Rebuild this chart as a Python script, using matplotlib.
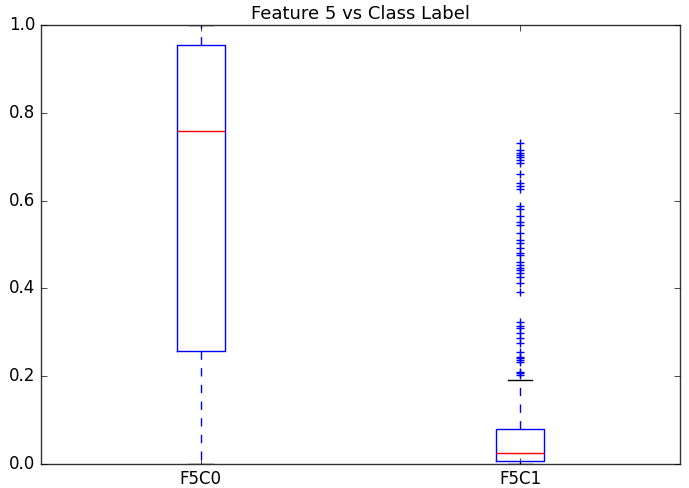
import matplotlib
matplotlib.use('Agg')
import matplotlib.pyplot as plt

plt.style.use('classic')

labels = ['F5C0', 'F5C1']
q1 = [0.257, 0.007]
med = [0.759, 0.025]
q3 = [0.954, 0.080]
whislo = [0.0, 0.0]
whishi = [1.0, 0.192]
fliers_c0 = []
fliers_c1 = [0.730, 0.715, 0.708, 0.704, 0.699, 0.692, 0.686, 0.660, 0.639,
             0.633, 0.626, 0.588, 0.580, 0.565, 0.552, 0.544, 0.526, 0.510,
             0.503, 0.493, 0.481, 0.476, 0.460, 0.453, 0.446, 0.442, 0.435,
             0.426, 0.412, 0.392, 0.323, 0.314, 0.310, 0.298, 0.287, 0.276,
             0.255, 0.244, 0.241, 0.237, 0.232, 0.210, 0.207, 0.203]
fliers = [fliers_c0, fliers_c1]

stats = []
for i in range(len(labels)):
    stats.append({'label': labels[i], 'q1': q1[i], 'med': med[i], 'q3': q3[i],
                  'whislo': whislo[i], 'whishi': whishi[i], 'fliers': fliers[i]})

fig = plt.figure(figsize=(6.89, 4.88), dpi=100, facecolor='white')
ax = fig.add_axes([0.0595, 0.049, 0.9275, 0.9])
ax.bxp(stats, flierprops=dict(marker='+', markeredgecolor='b', markerfacecolor='none', linestyle='none'))
ax.set_xlim(0.5, 2.5)
ax.set_ylim(0, 1.0)
ax.set_yticks([0.0, 0.2, 0.4, 0.6, 0.8, 1.0])
ax.set_title('Feature 5 vs Class Label', fontsize=13, pad=4)
for s in ax.spines.values():
    s.set_color('#333333')

fig.savefig('out.png', dpi=100, facecolor='white')
